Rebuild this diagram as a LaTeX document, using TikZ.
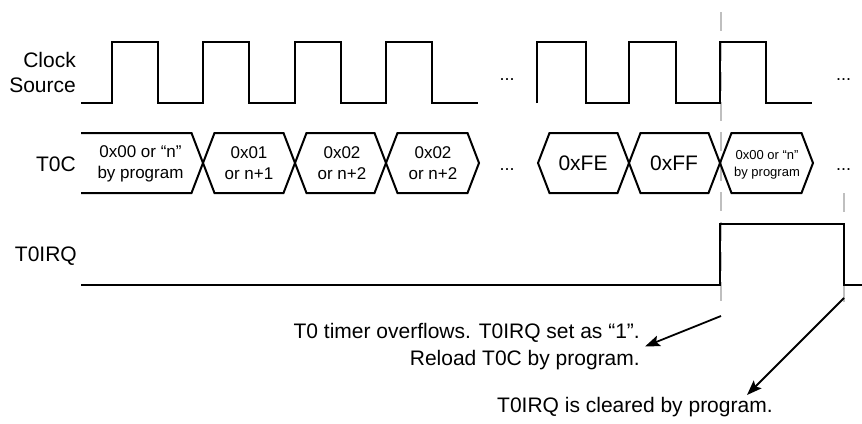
\documentclass[tikz,border=0pt]{standalone}
\usepackage{fontspec}
\setmainfont{Liberation Sans}
\usetikzlibrary{arrows.meta}
\begin{document}
\begin{tikzpicture}[x=1pt,y=-1pt,
  wave/.style={line width=2pt,line join=miter},
  guide/.style={line width=2pt,draw=black!25,dash pattern=on 19pt off 11pt},
  lbl/.style={font=\fontsize{21}{24.5}\selectfont,inner sep=0pt,align=right},
  val/.style={font=\fontsize{17}{21}\selectfont,inner sep=0pt,align=center},
  valbig/.style={font=\fontsize{21}{25}\selectfont,inner sep=0pt},
  valsmall/.style={font=\fontsize{13}{17}\selectfont,inner sep=0pt,align=center},
  note/.style={font=\fontsize{21}{27}\selectfont,inner sep=0pt},
  more/.style={font=\fontsize{18}{18}\selectfont,inner sep=0pt},
  pointer/.style={line width=1.8pt,-{Stealth[length=15pt,width=11pt,inset=3pt]}}]

\useasboundingbox (0,0) rectangle (862,423);

% reference lines at the overflow and at the clearing of the flag
\draw[guide] (721,12) -- (721,310);
\draw[guide] (844,193) -- (844,306);

% clock source
\draw[wave] (81,103) -- (112,103) -- (112,42) -- (158,42) -- (158,103)
  -- (203,103) -- (203,42) -- (249,42) -- (249,103)
  -- (295,103) -- (295,42) -- (341,42) -- (341,103)
  -- (386,103) -- (386,42) -- (432,42) -- (432,103) -- (478,103);
\draw[wave] (537,103) -- (537,42) -- (586,42) -- (586,103)
  -- (629,103) -- (629,42) -- (676,42) -- (676,103)
  -- (720,103) -- (720,42) -- (766,42) -- (766,103) -- (812,103);

% T0C counter values
\draw[wave] (81,133) -- (191.5,133) -- (203,163) -- (191.5,193) -- (81,193);
\draw[wave] (203,163) -- (214.5,133) -- (283.5,133) -- (295,163) -- (283.5,193) -- (214.5,193) -- cycle;
\draw[wave] (295,163) -- (306.5,133) -- (374.5,133) -- (386,163) -- (374.5,193) -- (306.5,193) -- cycle;
\draw[wave] (386,163) -- (397.5,133) -- (467.5,133) -- (479,163) -- (467.5,193) -- (397.5,193) -- cycle;
\draw[wave] (538,163) -- (549.5,133) -- (617.5,133) -- (629,163) -- (617.5,193) -- (549.5,193) -- cycle;
\draw[wave] (629,163) -- (640.5,133) -- (708.5,133) -- (720,163) -- (708.5,193) -- (640.5,193) -- cycle;
\draw[wave] (720,163) -- (731.5,133) -- (801.5,133) -- (813,163) -- (801.5,193) -- (731.5,193) -- cycle;

% T0IRQ flag
\draw[wave] (81,285) -- (720,285) -- (720,224) -- (844,224) -- (844,285) -- (862,285);

% signal names
\node[lbl,anchor=north east] (clk) at (76,52.5) {Clock\\Source};
\node[lbl,anchor=base east] (t0c) at (76,171.7) {T0C};
\node[lbl,anchor=base east] (irq) at (77,261.5) {T0IRQ};

% counter values
\node[val] (v0) at (140.5,163.5) {0x00 or “n”\\by program};
\node[val] (v1) at (249,163.5) {0x01\\or n+1};
\node[val] (v2) at (342,163.5) {0x02\\or n+2};
\node[val] (v3) at (433,163.5) {0x02\\or n+2};
\node[valbig] (vfe) at (583,163.5) {0xFE};
\node[valbig] (vff) at (674,163.5) {0xFF};
\node[valsmall] (vr) at (767,164.5) {0x00 or “n”\\by program};

% continuation marks
\node[more,anchor=base] (d1) at (507,80) {...};
\node[more,anchor=base] (d2) at (843.5,80) {...};
\node[more,anchor=base] (d3) at (507,170) {...};
\node[more,anchor=base] (d4) at (843.5,170) {...};

% notes
\node[note,anchor=north east,align=right] (note1) at (640,323)
  {T0 timer overflows. T0IRQ set as “1”.\\Reload T0C by program.};
\node[note,anchor=north west] (note2) at (497,397) {T0IRQ is cleared by program.};

\coordinate (ovf) at (721,316);
\coordinate (clr) at (844,298);
\coordinate (clrtip) at (747,395);
\draw[pointer] (ovf) -- ([xshift=5pt]note1.east);
\draw[pointer] (clr) -- (clrtip);
\end{tikzpicture}
\end{document}
